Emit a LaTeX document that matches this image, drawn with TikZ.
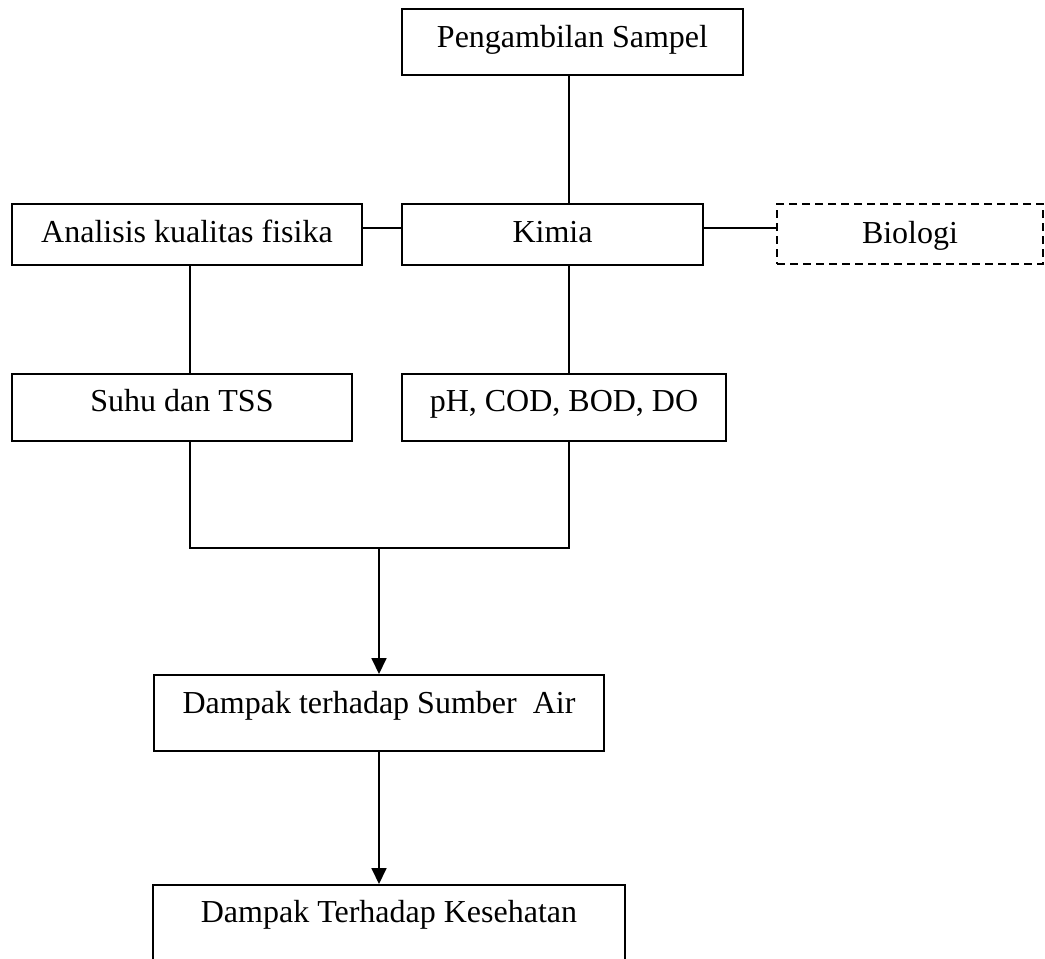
\documentclass[tikz,border=0pt]{standalone}
\usepackage{fontspec}
\setmainfont{Liberation Serif}
\usetikzlibrary{arrows.meta}

\def\boxline{1.5pt}

\tikzset{
  stepbox/.style={draw, line width=\boxline, inner sep=0pt, anchor=north,
    font=\fontsize{32}{38}\selectfont},
  link/.style={line width=\boxline},
  flowarrow/.style={line width=1.8pt, -{Triangle[length=16pt,width=15pt]}}
}

\begin{document}
\begin{tikzpicture}[x=1pt, y=-1pt]
  \clip (0,0) rectangle (1045,959);

  \node [stepbox, minimum width=341pt, text height=39pt, text depth=27pt] (samp) at (572.5, 8) {Pengambilan Sampel};

  \node [stepbox, minimum width=350pt, text height=39pt, text depth=22pt] (fis) at (187, 203) {Analisis kualitas fisika};
  \node [stepbox, minimum width=301pt, text height=39pt, text depth=22pt] (kim) at (552.5, 203) {Kimia};
  \node [stepbox, dash pattern=on 8pt off 5pt, line width=2pt, minimum width=266pt, text height=39pt, text depth=21pt] (bio) at (910, 203) {Biologi};

  \node [stepbox, minimum width=340pt, text height=38pt, text depth=29pt] (suhu) at (182, 373) {Suhu dan TSS};
  \node [stepbox, minimum width=324pt, text height=38pt, text depth=29pt] (ph) at (564, 373) {pH, COD, BOD, DO};

  \node [stepbox, minimum width=450pt, text height=39pt, text depth=37pt] (air) at (379, 674) {Dampak terhadap Sumber\ \ Air};
  \node [stepbox, minimum width=472pt, text height=38pt, text depth=100pt] (kes) at (389, 884) {Dampak Terhadap Kesehatan};

  \coordinate (trunk) at (569, 0);
  \coordinate (left) at (190, 0);
  \coordinate (row) at (0, 228);
  \coordinate (join) at (379, 548);

  \draw [link] (samp.south -| trunk) -- (kim.north -| trunk);
  \draw [link] (fis.east |- row) -- (kim.west |- row);
  \draw [link] (kim.east |- row) -- (bio.west |- row);
  \draw [link] (fis.south -| left) -- (suhu.north -| left);
  \draw [link] (kim.south -| trunk) -- (ph.north -| trunk);
  \draw [link] (suhu.south -| left) -- (left |- join) -- (trunk |- join) -- (ph.south -| trunk);

  \draw [flowarrow] (join) -- (air.north -| join);
  \draw [flowarrow] (air.south -| join) -- (kes.north -| join);

\end{tikzpicture}
\end{document}
